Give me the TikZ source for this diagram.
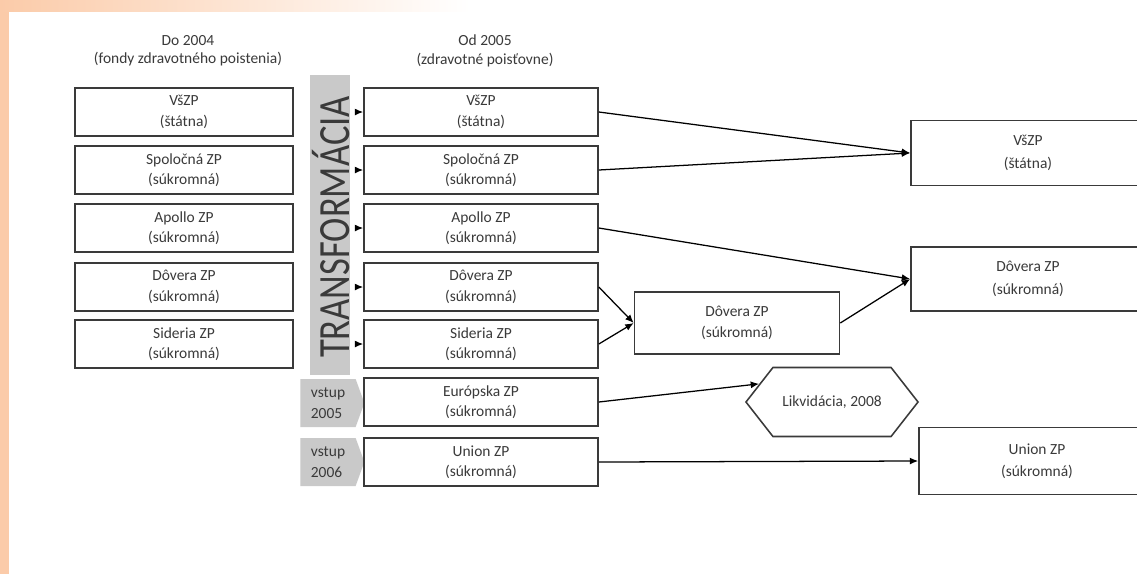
\documentclass[tikz,border=0pt]{standalone}
\usepackage{fontspec}
\setmainfont{Carlito}
\usetikzlibrary{shapes.symbols, arrows.meta}

\definecolor{peach}{HTML}{FBCBA9}
\definecolor{barGray}{HTML}{C9C9C9}
\definecolor{lineGray}{HTML}{3A3A3A}
\definecolor{textGray}{HTML}{3A3A3A}

\begin{document}
\begin{tikzpicture}[x = 0.025cm, y = -0.025cm,
    zp/.style = {draw = lineGray, line width = 1.1pt, fill = white, text = textGray,
                 align = center, font = \fontsize{11}{14.5}\selectfont,
                 inner sep = 0pt, minimum height = 1.2cm},
    stary/.style = {zp, minimum width = 5.45cm},
    novy/.style = {zp, minimum width = 5.85cm},
    cielovy/.style = {zp, font = \fontsize{11}{16}\selectfont},
    vstup/.style = {signal, signal to = east, signal pointer angle = 140,
                    fill = barGray, text = textGray, align = left,
                    font = \fontsize{11}{15}\selectfont,
                    minimum width = 1.6cm, minimum height = 1.2cm},
    tok/.style = {draw = black, line width = 0.9pt, -{Latex[length = 6pt, width = 5pt]}}]

  \useasboundingbox (0, 0) rectangle (1137, 574);
  % pozadie
  \fill [white] (0, 0) rectangle (1137, 574);
  \fill [peach] (0, 0) rectangle (9, 574);
  \shade [left color = peach, right color = white] (0, 0) rectangle (470, 11);

  % nadpisy stlpcov
  \node [text = textGray, align = center, font = \fontsize{11}{13}\selectfont] (hlStare) at (188, 51)
    {Do 2004\\(fondy zdravotného poistenia)};
  \node [text = textGray, align = center, font = \fontsize{11}{13}\selectfont] (hlNove) at (485, 51)
    {Od 2005\\(zdravotné poisťovne)};

  % fondy do 2004 a poistovne od 2005
  \foreach \n/\y/\meno/\typ in {1/112/VšZP/štátna, 2/170/Spoločná ZP/súkromná,
      3/228/Apollo ZP/súkromná, 4/287/Dôvera ZP/súkromná, 5/344/Sideria ZP/súkromná}
  {
    \node [stary] (s\n) at (184, \y) {\meno\\(\typ)};
    \node [novy] (n\n) at (481, \y) {\meno\\(\typ)};
  }

  % transformacia
  \node [fill = barGray, minimum width = 1cm, minimum height = 7.5cm, inner sep = 0pt] (bar) at (330, 225) {};
  \node [rotate = 90, text = lineGray, font = \fontsize{26}{26}\selectfont] (barText) at (331, 227)
    {\scalebox{1}[1.22]{TRANSFORMÁCIA}};
  \foreach \n in {1, ..., 5}
    \draw [tok] (bar.east |- n\n.west) ++(5, 0) -- (n\n.west);

  % nove poistovne
  \node [vstup] (v05) at (328, 403) {vstup\\2005};
  \node [vstup] (v06) at (328, 462) {vstup\\2006};
  \node [novy] (n6) at (481, 402) {Európska ZP\\(súkromná)};
  \node [novy] (n7) at (481, 462) {Union ZP\\(súkromná)};

  % po zluceni
  \node [zp, minimum width = 5.125cm, minimum height = 1.55cm] (dov) at (737, 323) {Dôvera ZP\\(súkromná)};
  \node [signal, signal to = west and east, signal pointer angle = 104, draw = lineGray, line width = 1.1pt,
         fill = white, text = textGray, font = \fontsize{11}{14}\selectfont,
         minimum width = 4.3cm, minimum height = 1.725cm] (likv) at (832, 402) {Likvidácia, 2008};
  \node [cielovy, minimum width = 5.85cm, minimum height = 1.625cm] (rVs) at (1028, 153) {VšZP\\(štátna)};
  \node [cielovy, minimum width = 5.85cm, minimum height = 1.6cm] (rDov) at (1028, 279) {Dôvera ZP\\(súkromná)};
  \node [cielovy, minimum width = 5.9cm, minimum height = 1.675cm] (rUn) at (1037, 461) {Union ZP\\(súkromná)};

  % prepojenia
  \draw [tok] (n1.east) -- (rVs.west);
  \draw [tok] (n2.east) -- (rVs.west);
  \draw [tok] (n3.east) -- (rDov.west);
  \draw [tok] (n4.east) -- (dov.west);
  \draw [tok] (n5.east) -- (dov.west);
  \draw [tok] (dov.east) -- (rDov.west);
  \draw [tok] (n6.east) -- (likv.166);
  \draw [tok] (n7.east) -- (rUn.west);
\end{tikzpicture}
\end{document}
